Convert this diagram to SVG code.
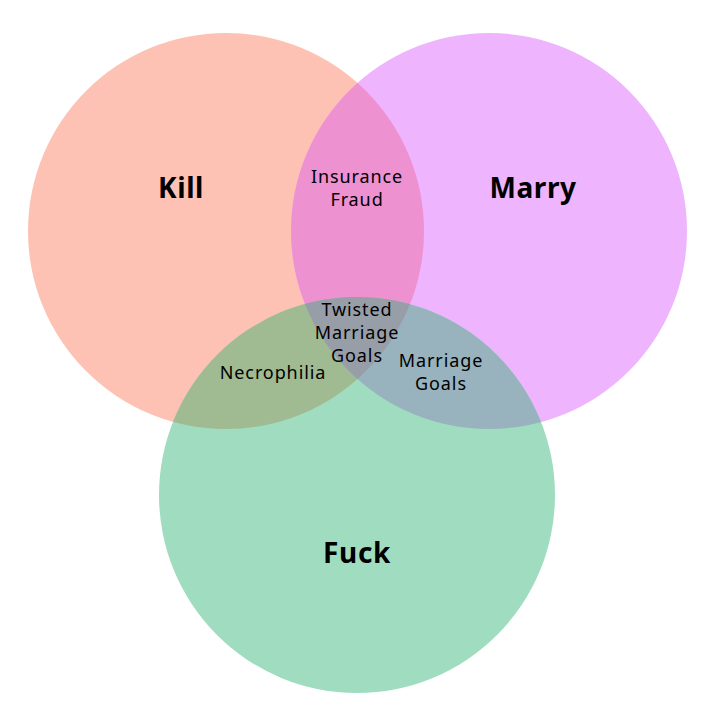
<svg xmlns="http://www.w3.org/2000/svg" width="720" height="720" viewBox="0 0 720 720">
<style>
text{font-family:"Noto Sans","Liberation Sans",sans-serif;fill:#000;text-anchor:middle}
.big{font-size:28px;font-weight:700;letter-spacing:0.6px}
.sm{font-size:18px;letter-spacing:0.9px}
</style>
<defs>
<clipPath id="cK"><circle cx="226" cy="231" r="198"/></clipPath>
<clipPath id="cM"><circle cx="489" cy="231" r="198"/></clipPath>
<clipPath id="cF"><circle cx="357" cy="495" r="198"/></clipPath>
</defs>
<rect width="720" height="720" fill="#fff"/>
<g id="kill"><circle cx="226" cy="231" r="198" fill="#FDC2B3"/></g>
<g id="marry"><circle cx="489" cy="231" r="198" fill="#EEB4FD"/></g>
<g id="fuck"><circle cx="357" cy="495" r="198" fill="#A0DDC0"/></g>
<g id="kill-marry" clip-path="url(#cK)"><circle cx="489" cy="231" r="198" fill="#EE91D1"/></g>
<g id="kill-fuck" clip-path="url(#cK)"><circle cx="357" cy="495" r="198" fill="#A0BA92"/></g>
<g id="marry-fuck" clip-path="url(#cM)"><circle cx="357" cy="495" r="198" fill="#98B3BD"/></g>
<g id="all" clip-path="url(#cK)"><g clip-path="url(#cM)"><circle cx="357" cy="495" r="198" fill="#989EA8"/></g></g>
<g id="labels">
<text class="big" x="181" y="198">Kill</text>
<text class="big" x="533" y="198">Marry</text>
<text class="big" x="357" y="563">Fuck</text>
<text class="sm" x="357" y="183">Insurance</text>
<text class="sm" x="357" y="206">Fraud</text>
<text class="sm" x="357" y="316">Twisted</text>
<text class="sm" x="357" y="339">Marriage</text>
<text class="sm" x="357" y="362">Goals</text>
<text class="sm" x="273" y="379">Necrophilia</text>
<text class="sm" x="441" y="367">Marriage</text>
<text class="sm" x="441" y="390">Goals</text>
</g>
</svg>
